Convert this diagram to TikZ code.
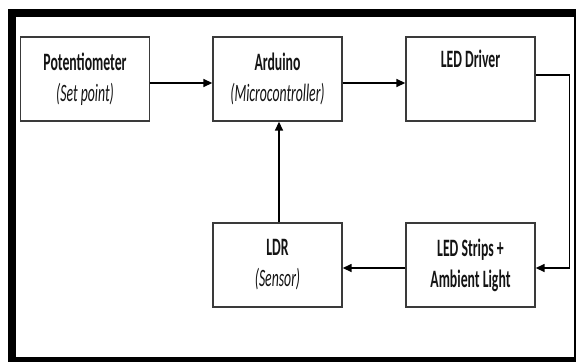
\documentclass[tikz,border=0pt]{standalone}
\usepackage{fontspec}
\setmainfont{Carlito}
\usetikzlibrary{arrows.meta}
\definecolor{boxline}{HTML}{3A3A3A}
\definecolor{inkdark}{HTML}{141414}

% squeeze a line of text sideways, as in the picture
\newcommand{\sqz}[1]{\scalebox{0.55}[1]{#1}}

\begin{document}
\begin{tikzpicture}[x=1pt, y=-1pt,
    >={Triangle[length=9pt, width=8pt]},
    block/.style={draw=boxline, line width=1.4pt, fill=white,
      minimum width=129pt, minimum height=84pt, inner sep=0pt,
      align=center, text=inkdark,
      font=\fontsize{25}{31}\selectfont},
    link/.style={->, line width=1.5pt, black}]

% Background and frame
\useasboundingbox (0,0) rectangle (576,362);
\fill[white] (0,0) rectangle (576,362);
\fill[black] (8,9) rectangle (576,362);
\fill[white] (16,17) rectangle (574,357);

% --- Blocks ---
\node[block] (pot) at (85,79)
  {\sqz{\textbf{Potentiometer}}\\\sqz{\textit{(Set point)}}};
\node[block] (ard) at (277.5,79)
  {\sqz{\textbf{Arduino}}\\\sqz{\textit{(Microcontroller)}}};
\node[block] (drv) at (470.5,79)
  {\sqz{\textbf{LED Driver}}\\\strut};
\node[block] (ldr) at (277.5,265)
  {\sqz{\textbf{LDR}}\\\sqz{\textit{(Sensor)}}};
\node[block] (strip) at (470.5,265)
  {\sqz{\textbf{LED Strips +}}\\\sqz{\textbf{Ambient Light}}};

% --- Connectors ---
\draw[link] ([yshift=-4pt]pot.east) -- ([yshift=-4pt]ard.west);
\draw[link] ([yshift=-4pt]ard.east) -- ([yshift=-4pt]drv.west);
\draw[link] ([yshift=4pt]drv.east) -- ++(34,0)
  |- ([yshift=-3pt]strip.east);
\draw[link] ([yshift=-3pt]strip.west) -- ([yshift=-3pt]ldr.east);
\draw[link] ([xshift=1.5pt]ldr.north) -- ([xshift=1.5pt]ard.south);

\end{tikzpicture}
\end{document}
